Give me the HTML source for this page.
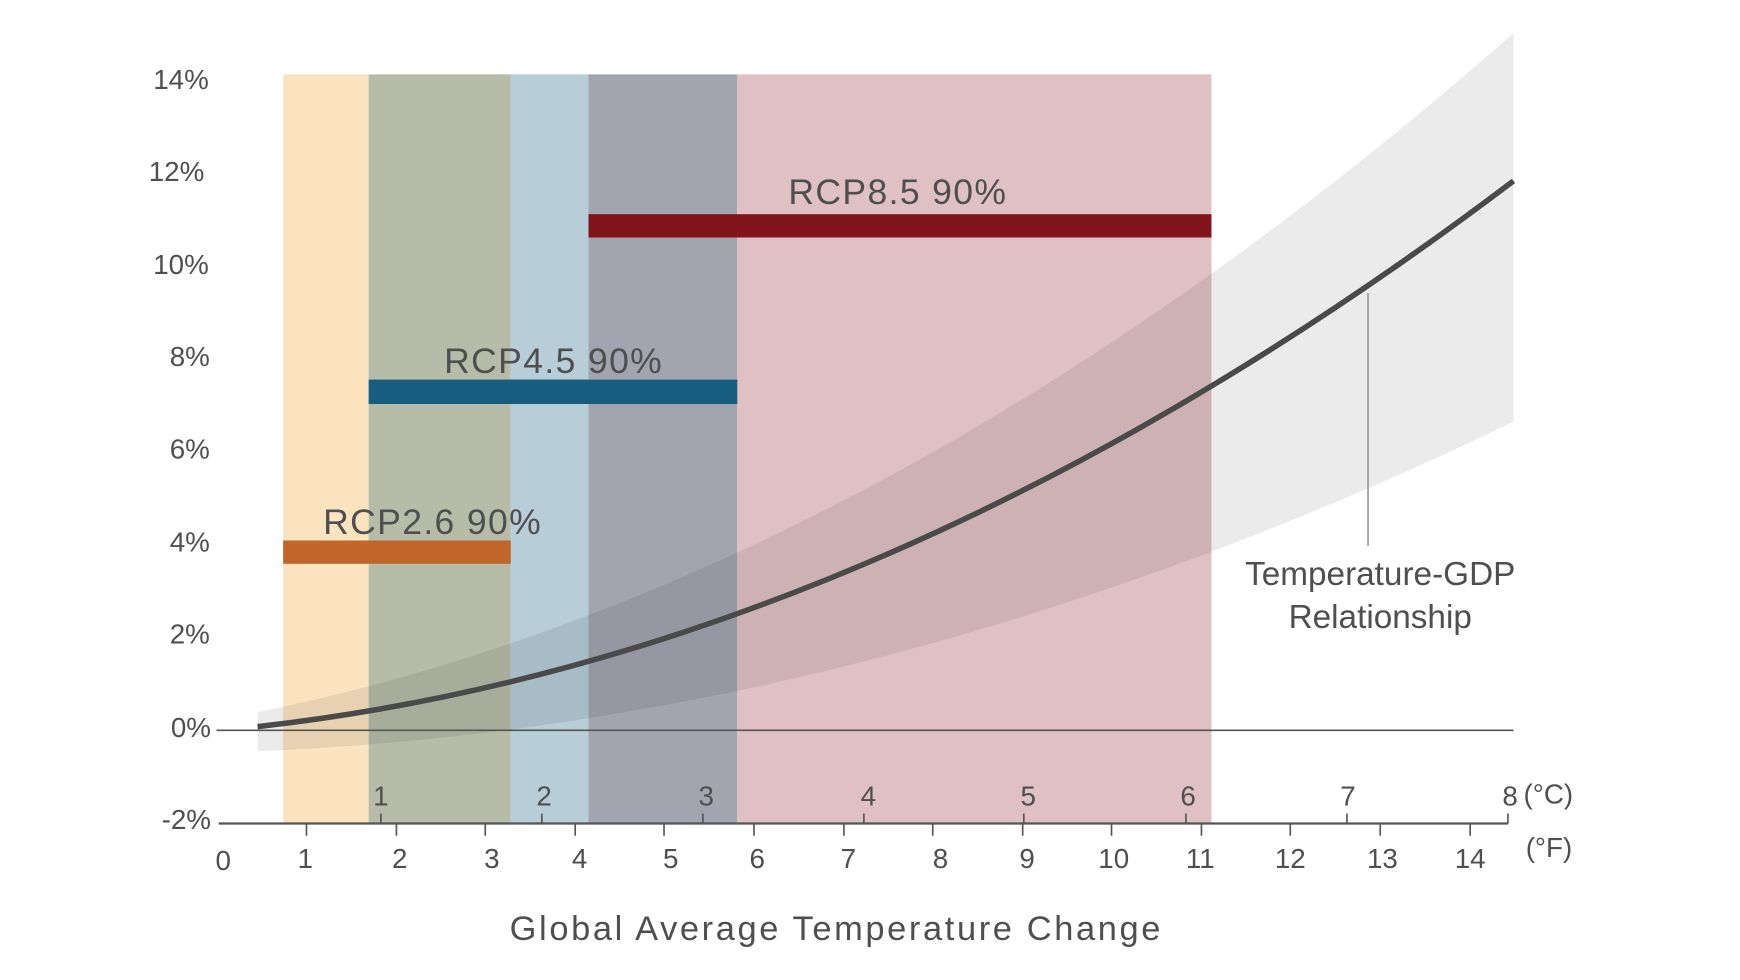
<!DOCTYPE html>
<html><head><meta charset="utf-8"><style>
html,body{margin:0;padding:0;background:#fff;width:1740px;height:980px;overflow:hidden}
svg{display:block}
text{font-family:"Liberation Sans",sans-serif;fill:#4f4f4f}
</style></head><body>
<svg width="1740" height="980" viewBox="0 0 1567 883" preserveAspectRatio="none">
<rect x="255" y="67" width="77" height="675" fill="#fbe3bf"/>
<rect x="332" y="67" width="128" height="675" fill="#b7bca9"/>
<rect x="460" y="67" width="70" height="675" fill="#b7cdd8"/>
<rect x="530" y="67" width="134" height="675" fill="#a2a4b0"/>
<rect x="664" y="67" width="427" height="675" fill="#dfc0c3"/>
<path d="M232,641.7 Q797.5,526 1363,30 L1363,380 Q797.5,653.4 232,676.9 Z" fill="#000" fill-opacity="0.08"/>
<line x1="195" y1="658" x2="1363" y2="658" stroke="#555" stroke-width="1.5"/>
<line x1="197" y1="742" x2="1358" y2="742" stroke="#555" stroke-width="2"/>
<rect x="530" y="193" width="561" height="21" fill="#80141a"/>
<rect x="332" y="342" width="332" height="22" fill="#165d80"/>
<rect x="255" y="487" width="205" height="21" fill="#c0662a"/>
<text x="710" y="184" font-size="32" textLength="196">RCP8.5 90%</text>
<text x="400" y="336" font-size="32" textLength="196">RCP4.5 90%</text>
<text x="291" y="481" font-size="32" textLength="196">RCP2.6 90%</text>
<path d="M232,654.7 Q797.5,591.2 1363,163" fill="none" stroke="#4a4a4a" stroke-width="5"/>
<line x1="1232" y1="264" x2="1232" y2="492" stroke="#999" stroke-width="1.5"/>
<text x="1243" y="527" font-size="30" text-anchor="middle">Temperature-GDP</text>
<text x="1243" y="566" font-size="30" text-anchor="middle">Relationship</text>
<g font-size="25" text-anchor="end">
<text x="188" y="80">14%</text><text x="184" y="163">12%</text><text x="188" y="247">10%</text>
<text x="189" y="330">8%</text><text x="189" y="413">6%</text><text x="189" y="497">4%</text>
<text x="189" y="580">2%</text><text x="190" y="664">0%</text><text x="190" y="747">-2%</text>
</g>
<g stroke="#555" stroke-width="1.5">
<line x1="343" y1="742" x2="343" y2="733"/><line x1="488" y1="742" x2="488" y2="733"/><line x1="633" y1="742" x2="633" y2="733"/><line x1="778" y1="742" x2="778" y2="733"/><line x1="922" y1="742" x2="922" y2="733"/><line x1="1068" y1="742" x2="1068" y2="733"/><line x1="1213" y1="742" x2="1213" y2="733"/><line x1="1358" y1="742" x2="1358" y2="733"/>
<line x1="276" y1="742" x2="276" y2="753"/><line x1="357" y1="742" x2="357" y2="753"/><line x1="437" y1="742" x2="437" y2="753"/><line x1="518" y1="742" x2="518" y2="753"/><line x1="598" y1="742" x2="598" y2="753"/><line x1="679" y1="742" x2="679" y2="753"/><line x1="760" y1="742" x2="760" y2="753"/><line x1="840" y1="742" x2="840" y2="753"/><line x1="921" y1="742" x2="921" y2="753"/><line x1="1001" y1="742" x2="1001" y2="753"/><line x1="1082" y1="742" x2="1082" y2="753"/><line x1="1162" y1="742" x2="1162" y2="753"/><line x1="1243" y1="742" x2="1243" y2="753"/><line x1="1324" y1="742" x2="1324" y2="753"/>
</g>
<g font-size="25" text-anchor="middle">
<text x="343" y="726">1</text><text x="490" y="726">2</text><text x="636" y="726">3</text><text x="782" y="726">4</text><text x="926" y="726">5</text><text x="1070" y="726">6</text><text x="1214" y="726">7</text><text x="1360" y="726">8</text>
<text x="201" y="784">0</text><text x="275" y="782">1</text><text x="360" y="782">2</text><text x="443" y="782">3</text><text x="522" y="782">4</text><text x="604" y="782">5</text><text x="682" y="782">6</text><text x="764" y="782">7</text><text x="847" y="782">8</text><text x="925" y="782">9</text><text x="1003" y="782">10</text><text x="1081" y="782">11</text><text x="1162" y="782">12</text><text x="1245" y="782">13</text><text x="1324" y="782">14</text>
</g>
<text x="1372" y="724" font-size="25">(°C)</text>
<text x="1374" y="772" font-size="25">(°F)</text>
<text x="752" y="847" font-size="31" text-anchor="middle" textLength="586">Global Average Temperature Change</text>
</svg>
</body></html>
